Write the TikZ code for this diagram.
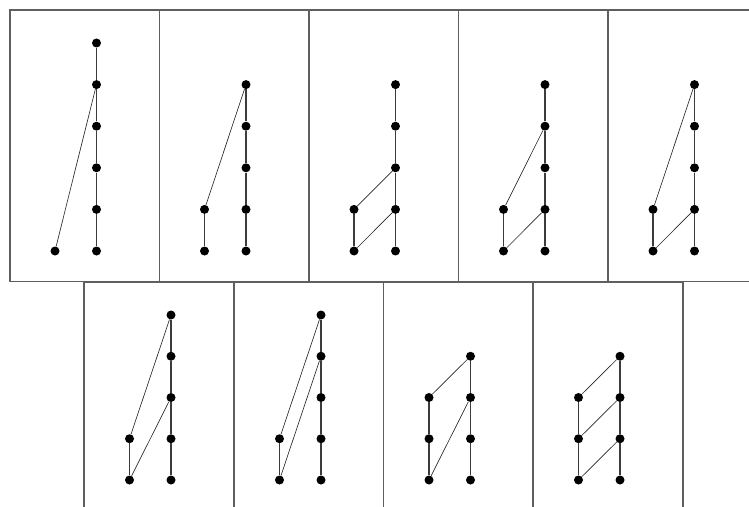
\documentclass[tikz,border=0pt]{standalone}
\usepackage{xcolor}
\usepackage{tikz}
\usetikzlibrary{calc}
\definecolor{framegray}{RGB}{95,95,95}
\definecolor{chaingray}{RGB}{60,60,60}

\begin{document}
\begin{tikzpicture}[x=0.03cm, y=-0.03cm,
    frame/.style={draw=framegray, line width=1.1pt},
    dot/.style={circle, fill=black, inner sep=0pt, minimum size=2.7mm},
    chain/.style={draw=chaingray, line width=1.6pt},
    link/.style={draw=black!85, line width=0.55pt}
]
    \useasboundingbox (0,0) rectangle (749,507);
    \clip (0,0) rectangle (749,507);

    % Frames
    \draw[frame] (10,10) rectangle (757,281.5);
    \foreach \x in {159.5, 309, 458.5, 608} \draw[frame] (\x,10) -- (\x,281.5);
    \draw[frame] (84,282) rectangle (683,530);
    \foreach \x in {234, 383.5, 533} \draw[frame] (\x,282) -- (\x,530);

    % Panel 1
    \foreach \k in {0,...,5} \node[dot] (p1R\k) at (96.5,{251-41.6*\k}) {};
    \node[dot] (p1L0) at (55,251) {};
    \foreach \k [count=\j] in {0,...,4} \draw[chain] (p1R\k) -- (p1R\j);
    \draw[link] (p1L0) -- (p1R4);

    % Panel 2
    \foreach \k in {0,...,4} \node[dot] (p2R\k) at (246,{251-41.6*\k}) {};
    \foreach \k in {0,1} \node[dot] (p2L\k) at (204.5,{251-41.6*\k}) {};
    \foreach \k [count=\j] in {0,...,3} \draw[chain] (p2R\k) -- (p2R\j);
    \draw[chain] (p2L0) -- (p2L1);
    \draw[link] (p2L1) -- (p2R4);

    % Panel 3
    \foreach \k in {0,...,4} \node[dot] (p3R\k) at (395.5,{251-41.6*\k}) {};
    \foreach \k in {0,1} \node[dot] (p3L\k) at (354,{251-41.6*\k}) {};
    \foreach \k [count=\j] in {0,...,3} \draw[chain] (p3R\k) -- (p3R\j);
    \draw[chain] (p3L0) -- (p3L1);
    \draw[link] (p3L0) -- (p3R1);
    \draw[link] (p3L1) -- (p3R2);

    % Panel 4
    \foreach \k in {0,...,4} \node[dot] (p4R\k) at (545,{251-41.6*\k}) {};
    \foreach \k in {0,1} \node[dot] (p4L\k) at (503.5,{251-41.6*\k}) {};
    \foreach \k [count=\j] in {0,...,3} \draw[chain] (p4R\k) -- (p4R\j);
    \draw[chain] (p4L0) -- (p4L1);
    \draw[link] (p4L0) -- (p4R1);
    \draw[link] (p4L1) -- (p4R3);

    % Panel 5
    \foreach \k in {0,...,4} \node[dot] (p5R\k) at (694.5,{251-41.6*\k}) {};
    \foreach \k in {0,1} \node[dot] (p5L\k) at (653,{251-41.6*\k}) {};
    \foreach \k [count=\j] in {0,...,3} \draw[chain] (p5R\k) -- (p5R\j);
    \draw[chain] (p5L0) -- (p5L1);
    \draw[link] (p5L0) -- (p5R1);
    \draw[link] (p5L1) -- (p5R4);

    % Panel 6
    \foreach \k in {0,...,4} \node[dot] (p6R\k) at (171,{480-41.25*\k}) {};
    \foreach \k in {0,1} \node[dot] (p6L\k) at (129.5,{480-41.25*\k}) {};
    \foreach \k [count=\j] in {0,...,3} \draw[chain] (p6R\k) -- (p6R\j);
    \draw[chain] (p6L0) -- (p6L1);
    \draw[link] (p6L0) -- (p6R2);
    \draw[link] (p6L1) -- (p6R4);

    % Panel 7
    \foreach \k in {0,...,4} \node[dot] (p7R\k) at (321,{480-41.25*\k}) {};
    \foreach \k in {0,1} \node[dot] (p7L\k) at (279.5,{480-41.25*\k}) {};
    \foreach \k [count=\j] in {0,...,3} \draw[chain] (p7R\k) -- (p7R\j);
    \draw[chain] (p7L0) -- (p7L1);
    \draw[link] (p7L0) -- (p7R3);
    \draw[link] (p7L1) -- (p7R4);

    % Panel 8
    \foreach \k in {0,...,3} \node[dot] (p8R\k) at (470.5,{480-41.25*\k}) {};
    \foreach \k in {0,1,2} \node[dot] (p8L\k) at (429,{480-41.25*\k}) {};
    \foreach \k [count=\j] in {0,...,2} \draw[chain] (p8R\k) -- (p8R\j);
    \foreach \k [count=\j] in {0,1} \draw[chain] (p8L\k) -- (p8L\j);
    \draw[link] (p8L0) -- (p8R2);
    \draw[link] (p8L2) -- (p8R3);

    % Panel 9
    \foreach \k in {0,...,3} \node[dot] (p9R\k) at (620,{480-41.25*\k}) {};
    \foreach \k in {0,1,2} \node[dot] (p9L\k) at (578.5,{480-41.25*\k}) {};
    \foreach \k [count=\j] in {0,...,2} \draw[chain] (p9R\k) -- (p9R\j);
    \foreach \k [count=\j] in {0,1} \draw[chain] (p9L\k) -- (p9L\j);
    \draw[link] (p9L0) -- (p9R1);
    \draw[link] (p9L1) -- (p9R2);
    \draw[link] (p9L2) -- (p9R3);

\end{tikzpicture}
\end{document}
